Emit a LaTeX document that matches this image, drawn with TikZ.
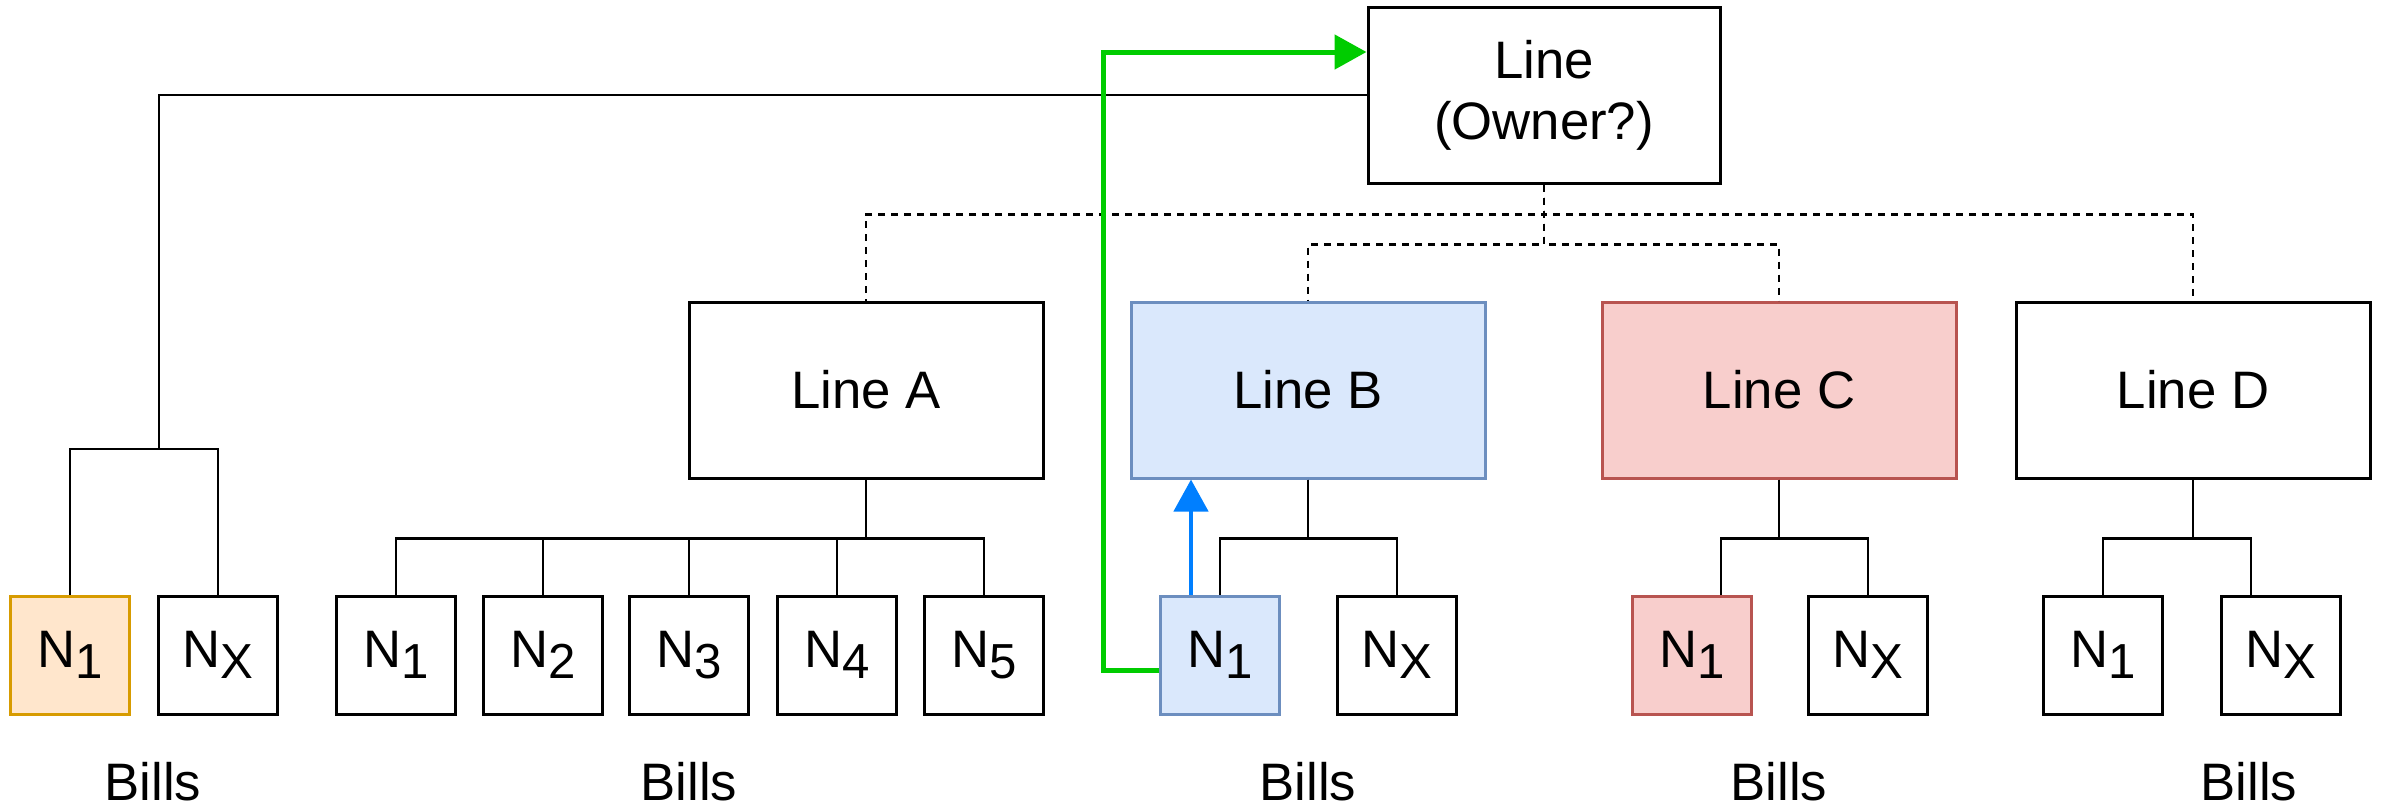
\documentclass[tikz,border=0pt]{standalone}
\usepackage{fontspec}
\setmainfont{Liberation Sans}
\usetikzlibrary{arrows.meta, positioning}
\definecolor{billorange}{HTML}{FFE6CC}
\definecolor{billorangeline}{HTML}{D79B00}
\definecolor{lineblue}{HTML}{DAE8FC}
\definecolor{lineblueline}{HTML}{6C8EBF}
\definecolor{linered}{HTML}{F8CECC}
\definecolor{lineredline}{HTML}{B85450}
\definecolor{movegreen}{HTML}{00CC00}
\definecolor{moveblue}{HTML}{007FFF}
\newcommand{\nsub}[1]{\raisebox{-1.1mm}{\fontsize{14}{14}\selectfont #1}}

\begin{document}
\begin{tikzpicture}[x=0.1mm, y=-0.1mm, font=\fontsize{15}{17.3}\selectfont,
    linebox/.style={draw, line width=0.3mm, minimum width=35.4mm, minimum height=17.6mm, inner sep=0pt, align=center},
    billbox/.style={draw, line width=0.3mm, minimum width=11.9mm, minimum height=11.8mm, inner sep=0pt},
    tree/.style={line width=0.28mm},
    owned/.style={tree, dash pattern=on 0.7mm off 0.6mm},
    move/.style={line width=0.5mm, -{Triangle[length=3.2mm, width=3.4mm]}}]
  \useasboundingbox (0,0) rectangle (2381,807);
  % Line (owner)
  \node[linebox, minimum width=35.2mm] (owner) at (1544,95) {Line\\(Owner?)};
  % Lines A to D
  \node[linebox] (lineA) at (866,390) {Line A};
  \node[linebox, fill=lineblue, draw=lineblueline] (lineB) at (1308,390) {Line B};
  \node[linebox, fill=linered, draw=lineredline] (lineC) at (1779,390) {Line C};
  \node[linebox] (lineD) at (2193,390) {Line D};
  % Bills
  \node[billbox, fill=billorange, draw=billorangeline] (o1) at (70,655) {N\nsub{1}};
  \node[billbox] (ox) at (218,655) {N\nsub{X}};
  \foreach \i/\x in {1/396,2/543,3/689,4/837,5/984}
    \node[billbox] (a\i) at (\x,655) {N\nsub{\i}};
  \node[billbox, fill=lineblue, draw=lineblueline] (b1) at (1220,655) {N\nsub{1}};
  \node[billbox] (bx) at (1397,655) {N\nsub{X}};
  \node[billbox, fill=linered, draw=lineredline] (c1) at (1692,655) {N\nsub{1}};
  \node[billbox] (cx) at (1868,655) {N\nsub{X}};
  \node[billbox] (d1) at (2103,655) {N\nsub{1}};
  \node[billbox] (dx) at (2281,655) {N\nsub{X}};
  \foreach \x in {153,689,1308,1779,2249}
    \node (bills\x) at (\x,782) {Bills};
  % Ownership (dashed)
  \draw[owned] (owner.south) -- ++(0,30) -| (lineA.north);
  \draw[owned] (owner.south) -- ++(0,30) -| (lineD.north);
  \draw[owned] (owner.south) -- ++(0,60) -| (lineB.north);
  \draw[owned] (owner.south) -- ++(0,60) -| (lineC.north);
  % Trees
  \coordinate (osplit) at (159,449);
  \draw[tree] (owner.west) -| (osplit) -| (o1.north);
  \draw[tree] (osplit) -| (ox.north);
  \foreach \n in {a1,a2,a3,a4,a5}
    \draw[tree] (lineA.south) -- ++(0,59) -| (\n.north);
  \draw[tree] (lineB.south) -- ++(0,59) -| (b1.north);
  \draw[tree] (lineB.south) -- ++(0,59) -| (bx.north);
  \draw[tree] (lineC.south) -- ++(0,59) -| ([xshift=2.9mm]c1.north);
  \draw[tree] (lineC.south) -- ++(0,59) -| (cx.north);
  \draw[tree] (lineD.south) -- ++(0,59) -| (d1.north);
  \draw[tree] (lineD.south) -- ++(0,59) -| ([xshift=-3mm]dx.north);
  % Moves
  \draw[move, moveblue, line width=0.45mm] ([xshift=-2.9mm]b1.north) -- ([xshift=-2.9mm]b1.north |- lineB.south);
  \coordinate (turn) at (1103,52);
  \draw[move, movegreen] ([yshift=-1.5mm]b1.west) -| (turn) -- (turn -| owner.west);
\end{tikzpicture}
\end{document}
